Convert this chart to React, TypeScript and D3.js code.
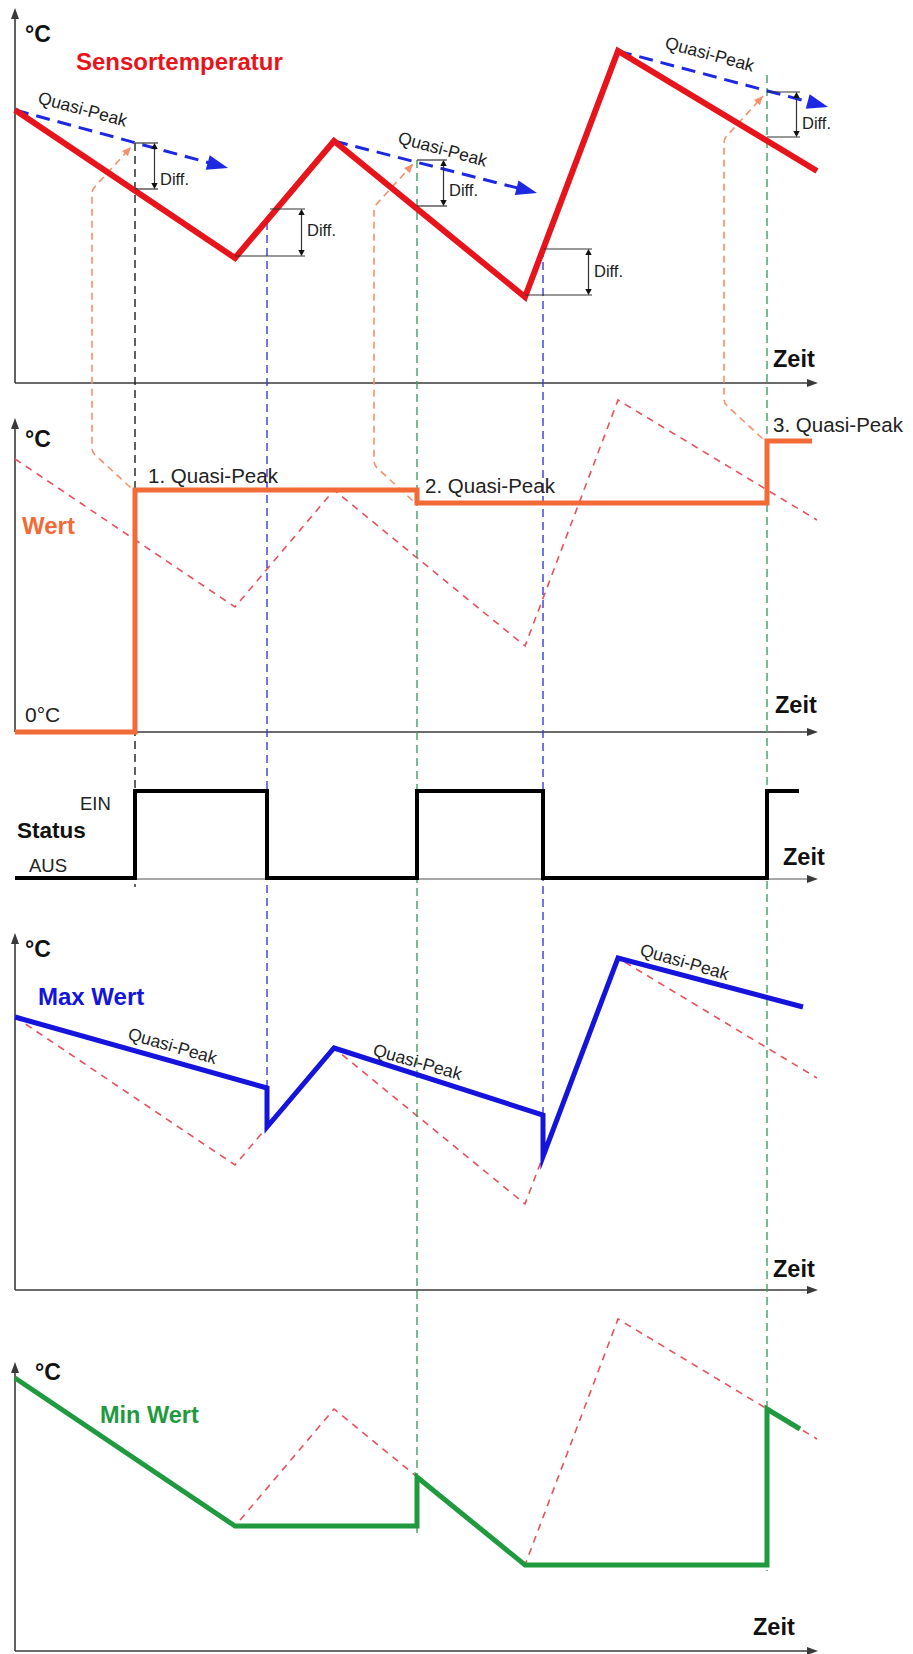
import React from "react";
import * as d3 from "d3";

const W = 913;
const H = 1654;

// ---------- data (time units, temperature units) ----------
const sensorTime = [0, 44, 63.8, 102, 120.6, 160.4];
const sensorTemp = [54.6, 25.0, 48.4, 17.2, 66.4, 42.4];

const eventTime = [24, 50.4, 80.4, 105.6, 150.4];
const eventColor = ["#1e1e1e", "#3a3ad6", "#3f9f68", "#3a3ad6", "#3f9f68"];
const eventTopTemp = [48.0, 32.2, 44.6, 26.8, 61.6];
const eventBottomPanel = ["status", "max", "min", "max", "min"];
const eventBottomTemp = [0, 40.4, 25.0, 35.0, 17.2];
const eventBottomExtra = [9, 0, 8, 0, 6];

const qpStartTime = [0, 63.8, 120.6];
const qpStartTemp = [54.6, 48.4, 66.4];
const qpEndTime = [42.6, 104.4, 162.6];
const qpEndTemp = [43.0, 38.0, 55.2];
const qpLabelTime = [4.4, 76.4, 129.8];
const qpLabelTemp = [56.0, 48.0, 67.0];

const diffTopTime = [24, 51, 80.4, 105.8, 150.4];
const diffBottomTime = [24, 44, 80.4, 102, 150.4];
const diffTopTemp = [48.0, 34.8, 44.6, 26.8, 58.2];
const diffBottomTemp = [38.8, 25.4, 35.4, 17.6, 49.2];
const diffEndTime = [28.6, 58, 86.4, 115.4, 157];
const diffLabelTemp = [39.6, 29.4, 37.4, 21.2, 50.8];

const wertTime = [0, 24, 24, 80.4, 80.4, 150.4, 150.4, 159.4];
const wertTemp = [0, 0, 48.4, 48.4, 45.8, 45.8, 58.2, 58.2];
const wertLabels = ["1. Quasi-Peak", "2. Quasi-Peak", "3. Quasi-Peak"];
const wertLabelTime = [26.6, 82, 151.6];
const wertLabelTemp = [49.8, 47.8, 60];
const connectorEvents = [0, 2, 4];
const connectorWert = [48.4, 45.8, 58.2];

const statusTime = [0, 24, 24, 50.4, 50.4, 80.4, 80.4, 105.6, 105.6, 150.4, 150.4, 156.8];
const statusState = [0, 0, 1, 1, 0, 0, 1, 1, 0, 0, 1, 1];

const maxTime = [0, 50.4, 50.4, 63.8, 105.6, 105.6, 120.6, 157.6];
const maxTemp = [54.6, 40.4, 32.6, 48.4, 35.0, 26.7, 66.4, 56.6];
const maxLabelTime = [22.4, 71.4, 124.8];
const maxLabelTemp = [50.2, 47.0, 67.0];

const minTime = [0, 44, 80.4, 80.4, 102, 150.4, 150.4, 157];
const minTemp = [54.6, 25.0, 25.0, 34.8, 17.2, 17.2, 48.4, 44.4];

const FONT = "'Liberation Sans', Arial, Helvetica, sans-serif";
const RED = "#e8141c";
const GHOST = "#e8505c";
const ORANGE = "#f26a36";
const BLUE = "#1414dc";
const QPBLUE = "#1c28e2";
const GREEN = "#1f9a3e";
const AXIS = "#3a3a3a";

type P = [number, number];
const zip = (a: number[], b: number[]): P[] => a.map((v, i) => [v, b[i]] as P);

function tri(tipX: number, tipY: number, ang: number, len: number, half: number) {
  const bx = tipX - len * Math.cos(ang);
  const by = tipY - len * Math.sin(ang);
  const px = -Math.sin(ang) * half;
  const py = Math.cos(ang) * half;
  return `M${tipX},${tipY}L${bx + px},${by + py}L${bx - px},${by - py}Z`;
}

export default function App() {
  const x = d3.scaleLinear().domain([0, 160.6]).range([15, 818]);
  const yFor = (axisY: number) => d3.scaleLinear().domain([0, 75]).range([axisY, axisY - 375]);
  const ySensor = yFor(383);
  const yWert = yFor(732);
  const yMax = yFor(1290);
  const yMin = yFor(1651);
  const yStatus = d3.scaleLinear().domain([0, 1]).range([878, 791]);
  const panelY: Record<string, d3.ScaleLinear<number, number>> = {
    sensor: ySensor, wert: yWert, max: yMax, min: yMin, status: yStatus,
  };

  const mk = (ys: d3.ScaleLinear<number, number>) =>
    d3.line<P>().x((d) => x(d[0])).y((d) => ys(d[1]));

  const sensorPts = zip(sensorTime, sensorTemp);

  const axes = [
    { axisY: 383, topY: 8 },
    { axisY: 732, topY: 418 },
    { axisY: 879, topY: null as number | null },
    { axisY: 1290, topY: 933 },
    { axisY: 1651, topY: 1362 },
  ];

  const x0 = x(0);
  const xEnd = x(160.6);

  const boldText = (t: string, tx: number, ty: number, size: number, fill = "#111") => (
    <text x={tx} y={ty} fontSize={size} fontWeight="bold" fill={fill} fontFamily={FONT}>{t}</text>
  );

  // orange connectors
  const connectors = connectorEvents.map((ei, k) => {
    const xe = x(eventTime[ei]);
    const yq = ySensor(diffTopTemp[ei]);
    const ys = yWert(connectorWert[k]);
    const S: P = [xe - 4.5, ys - 2.5];
    const B: P = [xe - 43, ys - 38];
    const T: P = [xe - 43, yq + 47];
    const tip: P = [xe - 4, yq + 4];
    const p = d3.path();
    p.moveTo(S[0], S[1]);
    p.arcTo(B[0], B[1], T[0], T[1], 10);
    p.arcTo(T[0], T[1], tip[0], tip[1], 10);
    p.lineTo(tip[0], tip[1]);
    const ang = Math.atan2(tip[1] - T[1], tip[0] - T[0]);
    return { d: p.toString(), head: tri(tip[0], tip[1], ang, 9, 4) };
  });

  return (
    <svg width={W} height={H} style={{ position: "absolute", left: 0, top: 0, background: "#fff" }}>
      <rect x={0} y={0} width={W} height={H} fill="#fff" />

      {/* axes */}
      {axes.map((a, i) => (
        <g key={"ax" + i}>
          <line x1={x0} y1={a.axisY} x2={xEnd - 6} y2={a.axisY} stroke={i === 2 ? "#8a8a8a" : AXIS} strokeWidth={1.6} />
          <path d={tri(xEnd, a.axisY, 0, 11, 4)} fill={AXIS} />
          {a.topY !== null && (
            <>
              <line x1={x0} y1={a.axisY} x2={x0} y2={a.topY + 6} stroke={AXIS} strokeWidth={1.6} />
              <path d={tri(x0, a.topY, -Math.PI / 2, 11, 4)} fill={AXIS} />
            </>
          )}
        </g>
      ))}

      {/* ghost sensor lines */}
      {[yWert, yMax, yMin].map((ys, i) => (
        <path key={"g" + i} d={mk(ys)(sensorPts) || ""} fill="none" stroke={GHOST}
          strokeWidth={1.6} strokeDasharray="7,6" />
      ))}

      {/* event dashed verticals */}
      {eventTime.map((t, i) => {
        const yb = panelY[eventBottomPanel[i]](eventBottomTemp[i]) + eventBottomExtra[i];
        return (
          <line key={"ev" + i} x1={x(t)} x2={x(t)} y1={ySensor(eventTopTemp[i])} y2={yb}
            stroke={eventColor[i]} strokeWidth={1.4} strokeDasharray="8,5" />
        );
      })}

      {/* orange connectors */}
      {connectors.map((c, i) => (
        <g key={"c" + i}>
          <path d={c.d} fill="none" stroke="#f4916a" strokeWidth={1.6} strokeDasharray="7,5" />
          <path d={c.head} fill="#f4916a" />
        </g>
      ))}

      {/* ---------- Panel 1: Sensortemperatur ---------- */}
      {boldText("°C", 25, 42, 23)}
      {boldText("Sensortemperatur", 76, 70, 24, RED)}

      {/* Quasi-peak dashed lines */}
      {qpStartTime.map((t, i) => {
        const sx = x(t), sy = ySensor(qpStartTemp[i]);
        const ex = x(qpEndTime[i]), ey = ySensor(qpEndTemp[i]);
        const ang = Math.atan2(ey - sy, ex - sx);
        const lx = ex - 18 * Math.cos(ang), ly = ey - 18 * Math.sin(ang);
        return (
          <g key={"qp" + i}>
            <line x1={sx} y1={sy} x2={lx} y2={ly} stroke={QPBLUE} strokeWidth={3} strokeDasharray="14,8" />
            <path d={tri(ex, ey, ang, 21, 7.5)} fill={QPBLUE} />
          </g>
        );
      })}

      <path d={mk(ySensor)(sensorPts) || ""} fill="none" stroke={RED} strokeWidth={6}
        strokeLinejoin="miter" strokeMiterlimit={10} />

      {qpLabelTime.map((t, i) => (
        <text key={"ql" + i} x={x(t)} y={ySensor(qpLabelTemp[i])} fontSize={17.5} fill="#222"
          fontFamily={FONT} transform={`rotate(15 ${x(t)} ${ySensor(qpLabelTemp[i])})`}>Quasi-Peak</text>
      ))}

      {/* Diff brackets */}
      {diffTopTime.map((t, i) => {
        const xe = x(diffEndTime[i]);
        const yt = ySensor(diffTopTemp[i]);
        const yb = ySensor(diffBottomTemp[i]);
        const xa = xe - 3.5;
        return (
          <g key={"df" + i}>
            <line x1={x(t)} x2={xe} y1={yt} y2={yt} stroke="#333" strokeWidth={1.2} />
            <line x1={x(diffBottomTime[i])} x2={xe} y1={yb} y2={yb} stroke="#333" strokeWidth={1.2} />
            <line x1={xa} x2={xa} y1={yt + 2} y2={yb - 2} stroke="#333" strokeWidth={1.2} />
            <path d={tri(xa, yt, -Math.PI / 2, 6, 3.2)} fill="#111" />
            <path d={tri(xa, yb, Math.PI / 2, 6, 3.2)} fill="#111" />
            <text x={xe + 2} y={ySensor(diffLabelTemp[i])} fontSize={16.5} fill="#222" fontFamily={FONT}>Diff.</text>
          </g>
        );
      })}
      {boldText("Zeit", 773, 367, 23.5)}

      {/* ---------- Panel 2: Wert ---------- */}
      {boldText("°C", 25, 447, 23)}
      {boldText("Wert", 22, 534, 24, ORANGE)}
      <text x={25} y={722} fontSize={21} fill="#222" fontFamily={FONT}>0°C</text>
      <path d={mk(yWert)(zip(wertTime, wertTemp)) || ""} fill="none" stroke={ORANGE} strokeWidth={5}
        strokeLinejoin="miter" />
      {wertLabels.map((l, i) => (
        <text key={"wl" + i} x={x(wertLabelTime[i])} y={yWert(wertLabelTemp[i])} fontSize={20.5}
          fill="#222" fontFamily={FONT}>{l}</text>
      ))}
      {boldText("Zeit", 775, 713, 23.5)}

      {/* ---------- Panel 3: Status ---------- */}
      <text x={80} y={810} fontSize={18.5} fill="#222" fontFamily={FONT}>EIN</text>
      {boldText("Status", 17, 838, 22.5)}
      <text x={29} y={872} fontSize={18.5} fill="#222" fontFamily={FONT}>AUS</text>
      <path d={d3.line<P>().x((d) => x(d[0])).y((d) => yStatus(d[1]))(zip(statusTime, statusState)) || ""}
        fill="none" stroke="#000" strokeWidth={4} strokeLinejoin="miter" />
      {boldText("Zeit", 783, 865, 23.5)}

      {/* ---------- Panel 4: Max Wert ---------- */}
      {boldText("°C", 25, 957, 23)}
      {boldText("Max Wert", 38, 1005, 24, BLUE)}
      <path d={mk(yMax)(zip(maxTime, maxTemp)) || ""} fill="none" stroke={BLUE} strokeWidth={5}
        strokeLinejoin="miter" strokeMiterlimit={10} />
      {maxLabelTime.map((t, i) => (
        <text key={"ml" + i} x={x(t)} y={yMax(maxLabelTemp[i])} fontSize={17.5} fill="#222"
          fontFamily={FONT} transform={`rotate(16 ${x(t)} ${yMax(maxLabelTemp[i])})`}>Quasi-Peak</text>
      ))}
      {boldText("Zeit", 773, 1277, 23.5)}

      {/* ---------- Panel 5: Min Wert ---------- */}
      {boldText("°C", 35, 1380, 23)}
      {boldText("Min Wert", 100, 1423, 23.5, GREEN)}
      <path d={mk(yMin)(zip(minTime, minTemp)) || ""} fill="none" stroke={GREEN} strokeWidth={5}
        strokeLinejoin="miter" strokeMiterlimit={10} />
      {boldText("Zeit", 753, 1635, 23.5)}
    </svg>
  );
}
